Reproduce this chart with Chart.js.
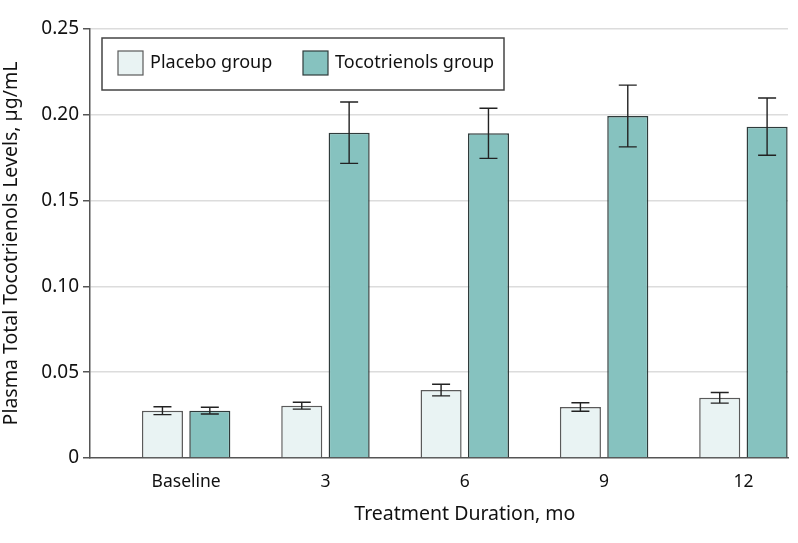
<!DOCTYPE html>
<html>
<head>
<meta charset="utf-8">
<script src="https://cdn.jsdelivr.net/npm/chart.js@4.4.0/dist/chart.umd.min.js"></script>
<style>
    html, body { margin: 0; padding: 0; background: #fff; }
    #wrap { width: 798px; height: 543px; }
</style>
</head>
<body>
<div id="wrap"><canvas id="chart"></canvas></div>
<script>
const categories = ['Baseline', '3', '6', '9', '12'];
const seriesNames = ['Placebo group', 'Tocotrienols group'];
const placeboValues = [0.0276, 0.0305, 0.0396, 0.0297, 0.0351];
const placeboErrors = [0.0023, 0.0020, 0.0034, 0.0025, 0.0031];
const tocoValues = [0.0276, 0.1896, 0.1892, 0.1993, 0.1931];
const tocoErrors = [0.0020, 0.0179, 0.0146, 0.0180, 0.0167];
const yTicks = [0, 0.05, 0.10, 0.15, 0.20, 0.25];
const yTickLabels = ['0', '0.05', '0.10', '0.15', '0.20', '0.25'];

const FONT = '"Noto Sans", "DejaVu Sans", sans-serif';
const errors = [placeboErrors, tocoErrors];

// error bars + boxed legend + x title, drawn on top of the library's bars
const extras = {
    id: 'extras',
    afterDatasetsDraw(chart) {
        const ctx = chart.ctx;
        const y = chart.scales.y;
        ctx.save();
        ctx.strokeStyle = '#222';
        ctx.lineWidth = 1.4;
        chart.data.datasets.forEach((ds, i) => {
            chart.getDatasetMeta(i).data.forEach((bar, j) => {
                const v = ds.data[j].y;
                const e = errors[i][j];
                const top = y.getPixelForValue(v + e);
                const bot = y.getPixelForValue(v - e);
                ctx.beginPath();
                ctx.moveTo(bar.x, top); ctx.lineTo(bar.x, bot);
                ctx.moveTo(bar.x - 9, top); ctx.lineTo(bar.x + 9, top);
                ctx.moveTo(bar.x - 9, bot); ctx.lineTo(bar.x + 9, bot);
                ctx.stroke();
            });
        });
        ctx.restore();
    },
    afterDraw(chart) {
        const ctx = chart.ctx;
        const ds = chart.data.datasets;
        ctx.save();
        // legend box
        ctx.fillStyle = '#fff';
        ctx.fillRect(102, 38, 402, 52);
        ctx.strokeStyle = '#444';
        ctx.lineWidth = 1.5;
        ctx.strokeRect(102, 38, 402, 52);
        const items = [{ x: 118 }, { x: 303 }];
        ctx.font = '18px ' + FONT;
        ctx.textBaseline = 'middle';
        items.forEach((it, i) => {
            ctx.fillStyle = ds[i].backgroundColor;
            ctx.fillRect(it.x, 51, 25, 24);
            ctx.strokeStyle = ds[i].borderColor;
            ctx.lineWidth = 1.2;
            ctx.strokeRect(it.x, 51, 25, 24);
            ctx.fillStyle = '#111';
            ctx.fillText(ds[i].label, it.x + 32, 63);
        });
        // x axis title, centred on the categories
        const x = chart.scales.x;
        ctx.font = '19.5px ' + FONT;
        ctx.textAlign = 'center';
        ctx.fillStyle = '#111';
        ctx.fillText('Treatment Duration, mo', (x.getPixelForValue(0) + x.getPixelForValue(categories.length - 1)) / 2, 514);
        ctx.restore();
    }
};

new Chart(document.getElementById('chart'), {
    type: 'bar',
    data: {
        datasets: [{
            label: seriesNames[0],
            data: placeboValues.map((v, i) => ({ x: i, y: v })),
            backgroundColor: '#e9f3f3',
            borderColor: '#5a5a5a',
            borderWidth: 1.5
        }, {
            label: seriesNames[1],
            data: tocoValues.map((v, i) => ({ x: i, y: v })),
            backgroundColor: '#86c2bf',
            borderColor: '#2f3b3b',
            borderWidth: 1.5
        }]
    },
    options: {
        responsive: true,
        maintainAspectRatio: false,
        animation: false,
        categoryPercentage: 0.68,
        barPercentage: 0.867,
        layout: { padding: { top: 29, right: 10, left: 0, bottom: 0 } },
        scales: {
            x: {
                type: 'linear',
                min: -0.69,
                max: 4.32,
                offset: false,
                afterBuildTicks: (s) => { s.ticks = categories.map((c, i) => ({ value: i })); },
                afterFit: (s) => { s.height = 85; },
                grid: { display: false, offset: false },
                border: { display: true, color: '#555', width: 1.5 },
                ticks: {
                    padding: 6,
                    color: '#111',
                    font: { family: FONT, size: 17.5 },
                    callback: (v) => categories[v]
                }
            },
            y: {
                min: 0,
                max: 0.25,
                afterBuildTicks: (s) => { s.ticks = yTicks.map(v => ({ value: v })); },
                afterFit: (s) => { s.width = 90; },
                grid: {
                    color: (c) => c.tick && c.tick.value === 0 ? 'rgba(0,0,0,0)' : '#dcdcdc',
                    lineWidth: 1.5,
                    tickColor: '#555',
                    tickLength: 7
                },
                border: { display: true, color: '#555', width: 1.5 },
                ticks: {
                    padding: 4,
                    color: '#111',
                    font: { family: FONT, size: 19 },
                    callback: (v) => yTickLabels[yTicks.indexOf(v)]
                },
                title: {
                    display: true,
                    text: 'Plasma Total Tocotrienols Levels, µg/mL',
                    color: '#111',
                    font: { family: FONT, size: 19.5 },
                    padding: { top: 0, bottom: 0 }
                }
            }
        },
        plugins: {
            legend: { display: false },
            tooltip: { enabled: false }
        }
    },
    plugins: [extras]
});
</script>
</body>
</html>
